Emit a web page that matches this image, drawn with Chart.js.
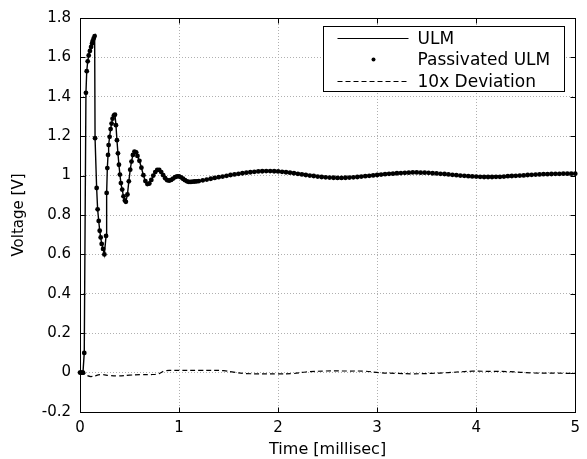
<!DOCTYPE html>
<html>
<head>
<meta charset="utf-8">
<script src="https://cdn.jsdelivr.net/npm/chart.js@4.4.1/dist/chart.umd.min.js"></script>
<style>
  html, body { margin: 0; padding: 0; background: #fff; }
  #wrap { width: 587px; height: 459px; }
</style>
</head>
<body>
<div id="wrap"><canvas id="voltChart" width="587" height="459"></canvas></div>
<script>
// ---- data (time in ms, voltage in V) ----

// first ~0.57 ms, irregular time steps
const fastT = [0, 0.01, 0.02, 0.03, 0.043, 0.06, 0.068, 0.078, 0.088, 0.1, 0.112, 0.122, 0.128, 0.138, 0.148,
  0.152, 0.168, 0.178, 0.189, 0.199, 0.209, 0.219, 0.233, 0.246, 0.263, 0.269, 0.276, 0.283, 0.289, 0.299,
  0.309, 0.319, 0.329, 0.343, 0.353, 0.363, 0.373, 0.383, 0.393, 0.403, 0.413, 0.426, 0.439, 0.453, 0.463,
  0.479, 0.493, 0.507, 0.52, 0.534, 0.55, 0.567];
const fastV = [0, 0, 0, 0, 0.1, 1.42, 1.53, 1.58, 1.61, 1.633, 1.653, 1.671, 1.683, 1.696, 1.708,
  1.19, 0.937, 0.829, 0.77, 0.72, 0.686, 0.653, 0.628, 0.6, 0.694, 0.912, 1.038, 1.105, 1.155, 1.197,
  1.236, 1.264, 1.289, 1.306, 1.309, 1.256, 1.18, 1.113, 1.055, 1.005, 0.962, 0.929, 0.895, 0.874, 0.867,
  0.904, 0.971, 1.03, 1.071, 1.105, 1.122, 1.118];

// 0.58 .. 1.20 ms every 0.02 ms
const midStart = 0.58, midStep = 0.02;
const midV = [1.100, 1.075, 1.040, 1.002, 0.972, 0.957, 0.960, 0.978, 1.000, 1.018, 1.029, 1.029, 1.018,
  1.002, 0.987, 0.977, 0.974, 0.978, 0.985, 0.992, 0.996, 0.996, 0.991, 0.984, 0.977, 0.971, 0.968,
  0.968, 0.969, 0.970, 0.971, 0.972];

// 1.24 .. 5.00 ms every 0.04 ms
const slowStart = 1.24, slowStep = 0.04;
const slowV = [0.976, 0.980, 0.984, 0.988, 0.992, 0.995, 0.999, 1.003, 1.006, 1.009, 1.012, 1.015, 1.017,
  1.019, 1.021, 1.022, 1.023, 1.023, 1.022, 1.021, 1.019, 1.017, 1.015, 1.012, 1.009, 1.006, 1.003,
  1.000, 0.998, 0.995, 0.993, 0.991, 0.990, 0.989, 0.988, 0.988, 0.989, 0.990, 0.991, 0.993, 0.995,
  0.997, 0.999, 1.001, 1.003, 1.005, 1.007, 1.009, 1.010, 1.012, 1.013, 1.014, 1.015, 1.016, 1.016,
  1.015, 1.015, 1.014, 1.012, 1.011, 1.009, 1.008, 1.006, 1.004, 1.002, 1.000, 0.999, 0.997, 0.996,
  0.995, 0.994, 0.993, 0.993, 0.993, 0.994, 0.994, 0.995, 0.997, 0.998, 0.999, 1.000, 1.001, 1.003,
  1.004, 1.005, 1.006, 1.007, 1.007, 1.008, 1.009, 1.009, 1.010, 1.010, 1.010, 1.010];

// 10x deviation between the two models
const devT = [0, 0.05, 0.11, 0.21, 0.3, 0.37, 0.5, 0.61, 0.72, 0.8, 0.85, 0.92, 1.0, 1.2, 1.45, 1.55, 1.68,
  2.0, 2.15, 2.28, 2.48, 2.7, 2.88, 3.02, 3.2, 3.35, 3.55, 3.72, 3.96, 4.15, 4.32, 4.58, 4.8, 5.0];
const devV = [0, -0.01, -0.02, -0.01, -0.015, -0.017, -0.013, -0.01, -0.01, -0.005, 0.008, 0.011, 0.011,
  0.011, 0.01, 0.002, -0.005, -0.006, -0.005, 0.003, 0.008, 0.008, 0.007, 0, -0.004, -0.006, -0.004,
  0, 0.007, 0.006, 0.005, -0.002, -0.003, -0.004];

const xTicks = [0, 1, 2, 3, 4, 5];
const seriesLabels = ["ULM", "Passivated ULM", "10x Deviation"];

// ---- build points ----
const ulmPoints = [];
fastT.forEach((t, i) => ulmPoints.push({ x: t, y: fastV[i] }));
midV.forEach((v, i) => ulmPoints.push({ x: +(midStart + i * midStep).toFixed(2), y: v }));
slowV.forEach((v, i) => ulmPoints.push({ x: +(slowStart + i * slowStep).toFixed(2), y: v }));
// passivated model sits on top of the ULM curve at this scale
const passivatedPoints = ulmPoints.map(p => ({ x: p.x, y: p.y }));
const devPoints = devT.map((t, i) => ({ x: t, y: devV[i] }));

const FONT = "'DejaVu Sans', sans-serif";

// box around the axes, inward ticks, legend inside the plot
const matlabFrame = {
  id: "matlabFrame",
  beforeDatasetsDraw(chart) {
    const { ctx, chartArea: a, scales: { x, y } } = chart;
    const L = Math.round(a.left) + 0.5, R = Math.round(a.right) + 0.5;
    const T = Math.round(a.top) + 0.5, B = Math.round(a.bottom) + 0.5;
    ctx.save();
    ctx.strokeStyle = "#000";
    ctx.lineWidth = 1;
    ctx.strokeRect(L, T, R - L, B - T);
    ctx.beginPath();
    x.ticks.forEach(t => {
      const px = Math.round(x.getPixelForValue(t.value)) + 0.5;
      ctx.moveTo(px, B); ctx.lineTo(px, B - 5);
      ctx.moveTo(px, T); ctx.lineTo(px, T + 5);
    });
    y.ticks.forEach(t => {
      const py = Math.round(y.getPixelForValue(t.value)) + 0.5;
      ctx.moveTo(L, py); ctx.lineTo(L + 5, py);
      ctx.moveTo(R, py); ctx.lineTo(R - 5, py);
    });
    ctx.stroke();
    ctx.restore();
  },
  afterDatasetsDraw(chart) {
    const { ctx, chartArea: a } = chart;
    const w = 241, h = 65;
    const left = Math.round(a.right - 11 - w) + 0.5;
    const top = Math.round(a.top + 8) + 0.5;
    ctx.save();
    ctx.fillStyle = "#fff";
    ctx.fillRect(left, top, w, h);
    ctx.strokeStyle = "#000";
    ctx.lineWidth = 1;
    ctx.strokeRect(left, top, w, h);
    ctx.font = "17px " + FONT;
    ctx.textBaseline = "middle";
    ctx.textAlign = "left";
    chart.data.datasets.forEach((ds, i) => {
      const cy = Math.round(top + 11 + i * 21.5) + 0.5;
      if (ds.showLine) {
        ctx.save();
        ctx.strokeStyle = ds.borderColor;
        ctx.lineWidth = 1;
        ctx.setLineDash(ds.borderDash || []);
        ctx.beginPath();
        ctx.moveTo(left + 14, cy);
        ctx.lineTo(left + 85, cy);
        ctx.stroke();
        ctx.restore();
      } else {
        ctx.fillStyle = ds.pointBackgroundColor;
        ctx.beginPath();
        ctx.arc(left + 50, cy, 2, 0, Math.PI * 2);
        ctx.fill();
      }
      ctx.fillStyle = "#000";
      ctx.fillText(ds.label, left + 94, cy + 1);
    });
    ctx.restore();
  }
};

const ctx = document.getElementById("voltChart").getContext("2d");
new Chart(ctx, {
  type: "scatter",
  data: {
    datasets: [
      {
        label: seriesLabels[0],
        data: ulmPoints,
        showLine: true,
        borderColor: "#000",
        borderWidth: 1.4,
        pointRadius: 0,
        tension: 0,
        order: 2
      },
      {
        label: seriesLabels[1],
        data: passivatedPoints,
        showLine: false,
        pointRadius: 2.4,
        pointBorderWidth: 0,
        pointBackgroundColor: "#000",
        clip: 4,
        order: 1
      },
      {
        label: seriesLabels[2],
        data: devPoints,
        showLine: true,
        borderColor: "#000",
        borderWidth: 1.2,
        borderDash: [5, 3],
        pointRadius: 0,
        tension: 0.4,
        order: 3
      }
    ]
  },
  options: {
    responsive: false,
    animation: false,
    layout: { padding: { top: 15, right: 8, left: 0, bottom: 0 } },
    plugins: {
      legend: { display: false },
      tooltip: { enabled: false }
    },
    scales: {
      x: {
        type: "linear",
        min: 0,
        max: 5,
        afterBuildTicks: s => { s.ticks = xTicks.map(v => ({ value: v })); },
        afterFit: s => { s.height = 47; },
        ticks: {
          padding: 7,
          color: "#000",
          font: { family: FONT, size: 15 },
          callback: v => String(v)
        },
        grid: { color: "#b0b0b0", lineWidth: 1, drawTicks: false },
        border: { display: false, dash: [1, 2] },
        title: {
          display: true,
          text: "Time [millisec]",
          color: "#000",
          font: { family: FONT, size: 16 },
          padding: { top: 0, bottom: 0 }
        }
      },
      y: {
        min: -0.2,
        max: 1.8,
        afterFit: s => { s.width = 80; },
        ticks: {
          stepSize: 0.2,
          padding: 9,
          color: "#000",
          font: { family: FONT, size: 15 },
          callback: v => String(Number(v.toFixed(1)) || 0)
        },
        grid: { color: "#b0b0b0", lineWidth: 1, drawTicks: false },
        border: { display: false, dash: [1, 2] },
        title: {
          display: true,
          text: "Voltage [V]",
          color: "#000",
          font: { family: FONT, size: 15 },
          padding: { top: 10, bottom: 0 }
        }
      }
    }
  },
  plugins: [matlabFrame]
});
</script>
</body>
</html>
